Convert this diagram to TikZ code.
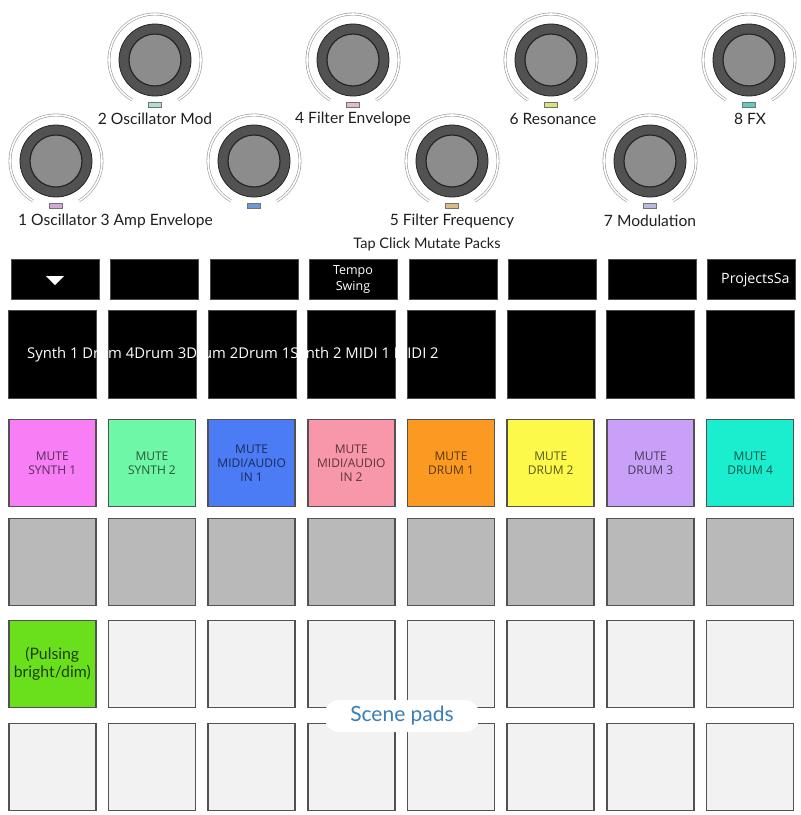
\documentclass[tikz,border=0pt]{standalone}
\usepackage{fontspec}
\setmainfont{Lato}
\newfontfamily\padfont{Open Sans}

\definecolor{padA}{HTML}{F77EF5}
\definecolor{padB}{HTML}{6EF7A6}
\definecolor{padC}{HTML}{4B7BF5}
\definecolor{padD}{HTML}{F896AA}
\definecolor{padE}{HTML}{FB9A22}
\definecolor{padF}{HTML}{FDF94A}
\definecolor{padG}{HTML}{C8A0F8}
\definecolor{padH}{HTML}{1AEECF}
\definecolor{padGray}{HTML}{B9B9B9}
\definecolor{padLight}{HTML}{F2F2F2}
\definecolor{pulseGreen}{HTML}{6AE01C}
\definecolor{sceneBlue}{HTML}{3A7FB5}
\definecolor{ledA}{HTML}{D4A8D8}
\definecolor{ledB}{HTML}{B0E0D0}
\definecolor{ledC}{HTML}{6A9AD6}
\definecolor{ledD}{HTML}{E8B8C8}
\definecolor{ledE}{HTML}{E0B888}
\definecolor{ledF}{HTML}{DDE078}
\definecolor{ledG}{HTML}{B8B8E0}
\definecolor{ledH}{HTML}{60CCC0}

\begin{document}
\begin{tikzpicture}[x=1pt, y=-1pt,
    every node/.style={font=\normalfont},
    knoblabel/.style={text=black!88, inner sep=0pt, font=\fontsize{15.6}{18}\selectfont},
    blackbox/.style={draw=black!70, fill=black, line width=.8pt, inner sep=0pt},
    padbox/.style={draw=black!68, line width=1.6pt, minimum width=87pt, minimum height=87pt,
        inner sep=0pt, align=center, font=\padfont\fontsize{12}{14}\selectfont},
]
    \fill[white] (0,0) rectangle (801,815);
    \useasboundingbox (0,0) rectangle (801,815);

    % encoders, odd ones on the lower row
    \foreach \i/\ky/\led in {1/161/ledA,2/60/ledB,3/161/ledC,4/60/ledD,5/161/ledE,6/60/ledF,7/161/ledG,8/60/ledH} {
        \pgfmathsetmacro{\kx}{56+99*(\i-1)}
        \coordinate (knob\i) at (\kx,\ky);
        \draw[gray!80, line width=.6pt, double=white, double distance=1.6pt]
            plot[smooth, domain=120:420, samples=61] ({\kx+46*cos(\x)}, {\ky+46*sin(\x)});
        \draw[fill=black!68, draw=black!85, line width=.8pt] (knob\i) circle[radius=36pt];
        \draw[fill=black!45, draw=black!85, line width=1.2pt] (knob\i) circle[radius=26pt];
        \draw[fill=\led, draw=black!55, line width=.6pt] (knob\i) ++(-6.5,42.5) rectangle ++(13,5);
    }

    \node[knoblabel] (lbl2) at (155,119) {2 Oscillator Mod};
    \node[knoblabel] (lbl4) at (353,119) {4 Filter Envelope};
    \node[knoblabel] (lbl6) at (553,119) {6 Resonance};
    \node[knoblabel] (lbl8) at (750,119) {8 FX};
    \node[knoblabel, anchor=west] (lbl13) at (18,221) {1 Oscillator 3 Amp Envelope};
    \node[knoblabel] (lbl5) at (452,221) {5 Filter Frequency};
    \node[knoblabel] (lbl7) at (650,221) {7 Modulation};
    \node[knoblabel, font=\fontsize{14.5}{17}\selectfont] (taps) at (427,244) {Tap Click Mutate Packs};

    % buttons and display
    \foreach \c in {0,...,7} {
        \node[blackbox, minimum width=88pt, minimum height=40pt] (btn\c) at (55+99.5*\c, 279) {};
        \node[blackbox, minimum width=88pt, minimum height=88pt] (disp\c) at (52.5+99.7*\c, 354) {};
    }
    \fill[white] (btn0.center) ++(-9,-3) -- ++(18,0) -- ++(-9,9) -- cycle;
    \node[text=white, align=center, font=\padfont\fontsize{12.5}{16}\selectfont] (tempo) at (353,280) {Tempo\\Swing};
    \node[anchor=west, text=white, inner sep=0pt, font=\padfont\fontsize{14.2}{16}\selectfont] (proj) at (721,280) {ProjectsSa};
    \node[anchor=west, text=white, inner sep=0pt, font=\padfont\fontsize{14.8}{16}\selectfont] (strip) at (27,355)
        {Synth 1 Drum 4Drum 3Drum 2Drum 1Synth 2 MIDI 1 MIDI 2};

    % pads
    \foreach \c/\col/\txt in {0/padA/{MUTE\\SYNTH 1}, 1/padB/{MUTE\\SYNTH 2},
            2/padC/{MUTE\\MIDI/AUDIO\\IN 1}, 3/padD/{MUTE\\MIDI/AUDIO\\IN 2},
            4/padE/{MUTE\\DRUM 1}, 5/padF/{MUTE\\DRUM 2}, 6/padG/{MUTE\\DRUM 3}, 7/padH/{MUTE\\DRUM 4}} {
        \node[padbox, fill=\col, text=\col!35!black] (mute\c) at (52.25+99.7*\c, 463) {\txt};
        \node[padbox, fill=padGray] (mid\c) at (52.25+99.7*\c, 562) {};
        \ifnum \c=0
            \node[padbox, fill=pulseGreen, text=pulseGreen!28!black, font=\fontsize{15.8}{18}\selectfont]
                (sceneA\c) at (52.25+99.7*\c, 664) {(Pulsing\\bright/dim)};
        \else
            \node[padbox, fill=padLight] (sceneA\c) at (52.25+99.7*\c, 664) {};
        \fi
        \node[padbox, fill=padLight] (sceneB\c) at (52.25+99.7*\c, 767) {};
    }

    \node[fill=white, rounded corners=15pt, minimum width=155pt, minimum height=32pt, text=sceneBlue,
        font=\fontsize{21}{23}\selectfont] (scenelbl) at (402,716) {Scene pads};
\end{tikzpicture}
\end{document}
